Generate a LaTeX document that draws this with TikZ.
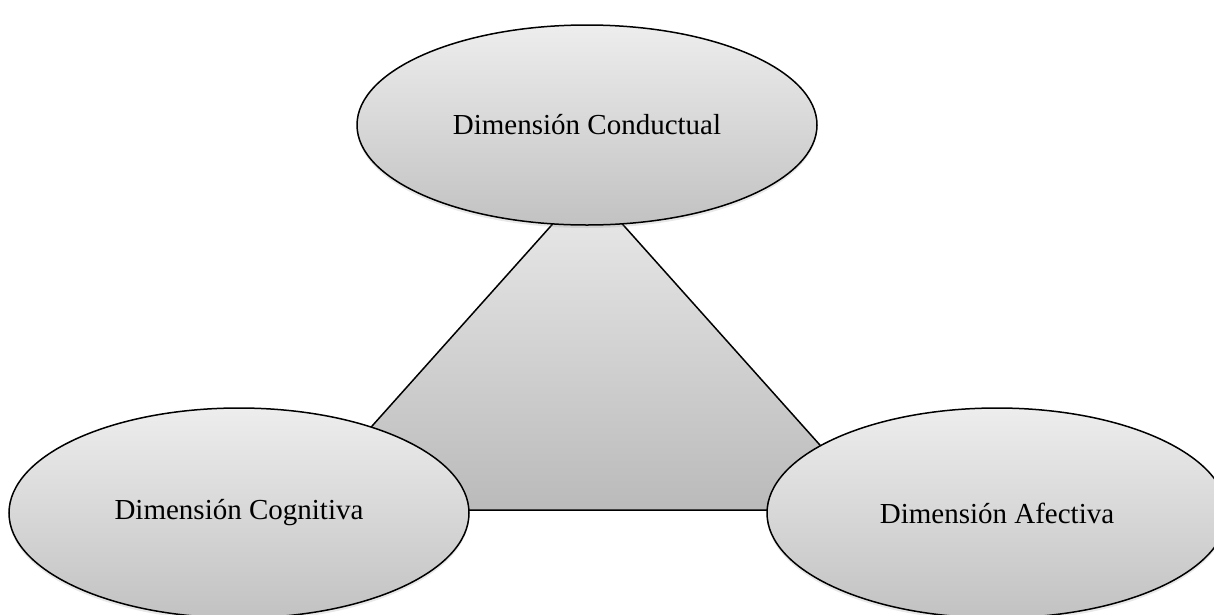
\documentclass[tikz,border=0pt]{standalone}
\usepackage{fontspec}
\setmainfont{Liberation Serif}
\usetikzlibrary{shapes.geometric,shadows}
\tikzset{
  dim/.style={ellipse, draw=black, line width=1.5pt, inner sep=0pt,
    minimum width=460pt, minimum height=210pt,
    top color=black!7, bottom color=black!24,
    font=\fontsize{29}{34}\selectfont,
    drop shadow={opacity=0.18, shadow xshift=0pt, shadow yshift=-3pt}},
  tri/.style={draw=black, line width=1.5pt, line join=miter,
    top color=black!8, bottom color=black!27}
}
\begin{document}
\begin{tikzpicture}[x=1pt,y=-1pt]
\useasboundingbox (0,0) rectangle (1214,614);
\coordinate (apex) at (587.5,185);
\coordinate (bl) at (297,510);
\coordinate (br) at (878,510);
\path[tri] (apex) -- (br) -- (bl) -- cycle;
\node[dim, minimum height=200pt] (cond) at (587,125) {Dimensión Conductual};
\node[dim] (cogn) at (239,513) {Dimensión Cognitiva};
\node[dim] (afec) at (997,513) {Dimensión Afectiva};
\end{tikzpicture}
\end{document}
